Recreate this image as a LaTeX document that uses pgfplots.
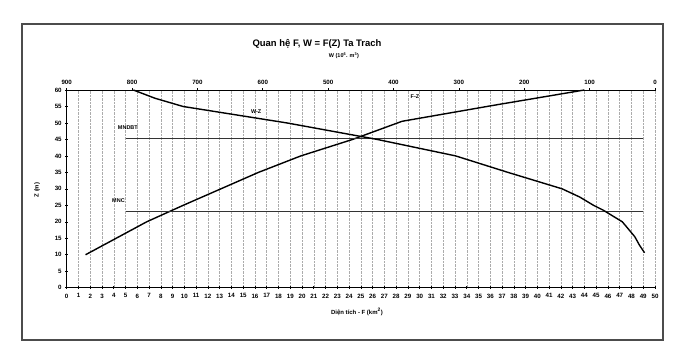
\documentclass[border=0pt]{standalone}
\usepackage{pgfplots}
\pgfplotsset{compat=1.18}
\usepackage{fontspec}
\setmainfont{Liberation Sans}
\begin{document}
\begin{tikzpicture}[x=1bp,y=1bp]
\useasboundingbox (0,0) rectangle (688,361);
\draw[gray!60!black, line width=1.2bp] (22,337) rectangle (663,21);
\pgfplotsset{
  common/.style={
    at={(66.7bp,73.3bp)}, anchor=south west,
    scale only axis, width=588.3bp, height=197.7bp,
    ymin=0, ymax=60,
    axis line style={-, black, line width=0.8bp},
    tick align=center, major tick length=3bp,
    tick style={black, line width=0.6bp},
    ticklabel style={font=\fontsize{6.2}{7}\selectfont\bfseries},
    /pgf/number format/assume math mode=true,
    clip=false,
  }
}
\begin{axis}[common,
  xmin=0, xmax=50,
  axis x line*=bottom, axis y line*=left,
  xtick={0,1,...,50}, ytick={0,5,...,60},
  xmajorgrids, grid style={densely dotted, gray!65, line width=0.5bp},
  xticklabel style={yshift=-1bp},
]
% F-Z curve
\addplot[black, line width=1.4bp] coordinates {
 (1.6,10) (4.2,15) (6.8,20) (9.9,25) (13.1,30) (16.3,35) (19.9,40)
 (24.3,45) (28.5,50.5) (36.2,55.3) (44.0,60)};
% MNDBT and MNC levels
\addplot[black!80, line width=0.9bp] coordinates {(5,45.3) (49,45.3)};
\addplot[black!80, line width=0.9bp] coordinates {(5,23) (49,23)};
\node[font=\fontsize{5.5}{6}\selectfont\bfseries] at (axis cs:5.2,48.7) {MNDBT};
\node[font=\fontsize{5.5}{6}\selectfont\bfseries] at (axis cs:4.4,26.3) {MNC};
\node[font=\fontsize{5.5}{6}\selectfont\bfseries] at (axis cs:16.1,53.3) {W-Z};
\node[font=\fontsize{5.5}{6}\selectfont\bfseries] at (axis cs:29.6,58) {F-Z};
\end{axis}
\begin{axis}[common,
  xmin=0, xmax=900, x dir=reverse,
  axis x line*=top, axis y line=none,
  xtick={0,100,...,900}, ytick=\empty,
]
% W-Z curve
\addplot[black, line width=1.4bp] coordinates {
 (16,10.6) (24,13) (31,15.5) (50,20) (79,23.5) (94,25) (115,27.5) (142,30)
 (225,35) (305,40) (425,45) (563,50) (722,55) (765,57.5) (798,60)};
\end{axis}
\node[font=\fontsize{9.5}{11}\selectfont\bfseries] at (317,317.5) {Quan hệ F, W = F(Z) Ta Trach};
\node[font=\fontsize{5.5}{6}\selectfont\bfseries] at (344,305.5) {W (10\textsuperscript{6}. m\textsuperscript{3})};
\node[font=\fontsize{6}{7}\selectfont\bfseries, rotate=90] at (37,171) {Z (m)};
\node[font=\fontsize{6}{7}\selectfont\bfseries] at (357,49) {Diện tích - F (km\textsuperscript{2})};
\end{tikzpicture}
\end{document}
